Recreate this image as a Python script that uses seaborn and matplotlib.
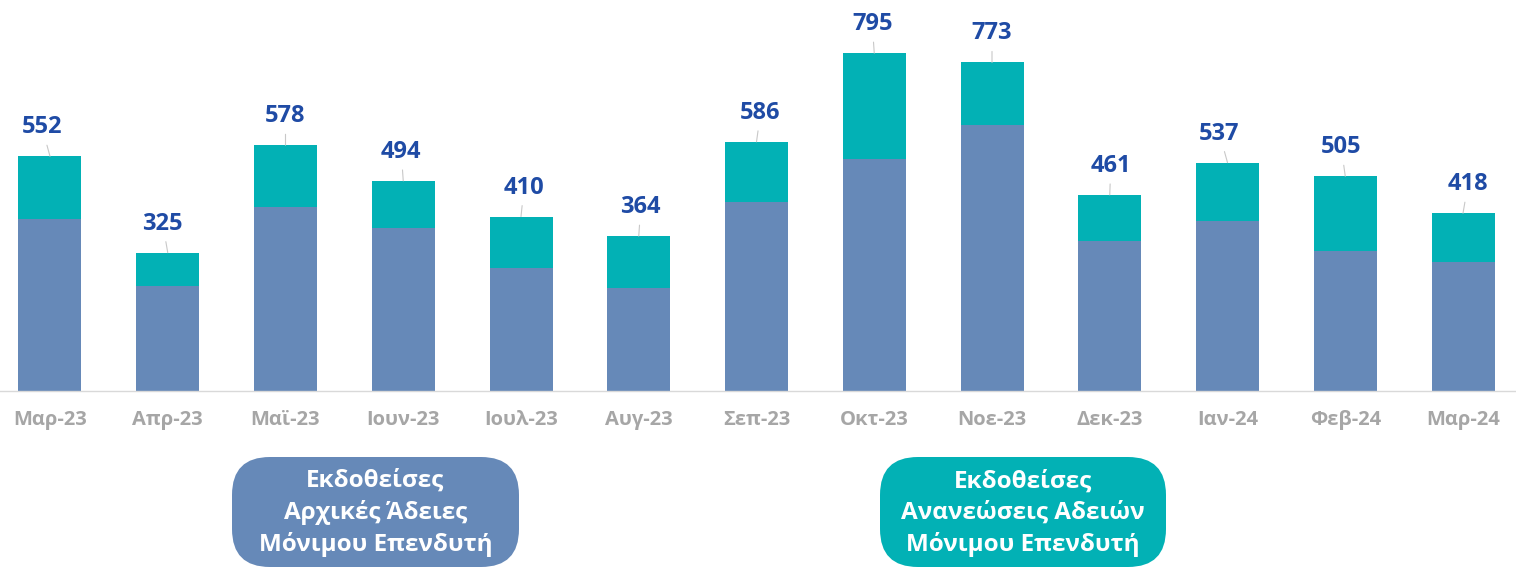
import pandas as pd
import numpy as np
import matplotlib.pyplot as plt
import seaborn as sns
from matplotlib.patches import FancyBboxPatch

months = ["Μαρ-23", "Απρ-23", "Μαϊ-23", "Ιουν-23", "Ιουλ-23", "Αυγ-23", "Σεπ-23",
          "Οκτ-23", "Νοε-23", "Δεκ-23", "Ιαν-24", "Φεβ-24", "Μαρ-24"]
initial = [405, 247, 432, 382, 288, 241, 444, 545, 625, 352, 399, 328, 302]
renewals = [147, 78, 146, 112, 122, 123, 142, 250, 148, 109, 138, 177, 116]
totals = [552, 325, 578, 494, 410, 364, 586, 795, 773, 461, 537, 505, 418]

legend_initial = "Εκδοθείσες\nΑρχικές Άδειες\nΜόνιμου Επενδυτή"
legend_renew = "Εκδοθείσες\nΑνανεώσεις Αδειών\nΜόνιμου Επενδυτή"

# small horizontal nudges of the value callouts (pixels)
label_dx = [-8, -5, 0, -2, 3, 2, 4, -2, 0, 1, -8, -4, 5]

blue = "#6689B8"
teal = "#02B1B5"
label_blue = "#1F4BA5"
gray = "#A6A6A6"

df = pd.DataFrame({"month": months, "initial": initial, "total": totals})

sns.set_theme(style="white")
plt.rcParams["font.family"] = ["Open Sans", "DejaVu Sans"]

fig = plt.figure(figsize=(15.16, 5.68), dpi=100)
ax = fig.add_axes([0, 0.3122, 1, 0.6878])

# stacked look: totals in teal behind, initial permits in blue on top
sns.barplot(data=df, x="month", y="total", color=teal, saturation=1,
            width=0.535, ax=ax, edgecolor="none")
sns.barplot(data=df, x="month", y="initial", color=blue, saturation=1,
            width=0.535, ax=ax, edgecolor="none")

ax.set_xlim(-0.4246, 12.45)
ax.set_ylim(0, 920)
ax.set_xlabel("")
ax.set_ylabel("")
ax.set_yticks([])

for s in ["top", "right", "left"]:
    ax.spines[s].set_visible(False)
ax.spines["bottom"].set_color("#D9D9D9")
ax.spines["bottom"].set_linewidth(1)

ax.tick_params(axis="x", which="major", length=0, pad=14,
               labelsize=14.5, labelcolor=gray)
for t in ax.get_xticklabels():
    t.set_fontweight("bold")
ax.set_xticks(np.arange(len(months) - 1) + 0.5, minor=True)
ax.tick_params(axis="x", which="minor", length=6, width=1,
               color="#D9D9D9", direction="out")

for i, tot in enumerate(totals):
    ax.annotate(str(tot), xy=(i, tot), xytext=(label_dx[i], 29),
                textcoords="offset pixels", ha="center", va="center",
                fontsize=17, fontweight="bold", color=label_blue,
                arrowprops=dict(arrowstyle="-", color="#C8C8C8", lw=0.8,
                                shrinkA=2, shrinkB=0))

W, H = 1516, 568
for x0, x1, col, txt in [(232, 519, blue, legend_initial),
                         (880, 1166, teal, legend_renew)]:
    box = FancyBboxPatch((x0 / W, 1 - 567 / H), (x1 - x0) / W, (567 - 457) / H,
                         boxstyle="round,pad=0,rounding_size=0.025",
                         transform=fig.transFigure, facecolor=col,
                         edgecolor="none", mutation_aspect=W / H)
    fig.patches.append(box)
    fig.text((x0 + x1) / 2 / W, 1 - 513 / H, txt, ha="center", va="center",
             color="white", fontsize=17.5, fontweight="bold", linespacing=1.38)

fig.savefig("out.png", dpi=100)
